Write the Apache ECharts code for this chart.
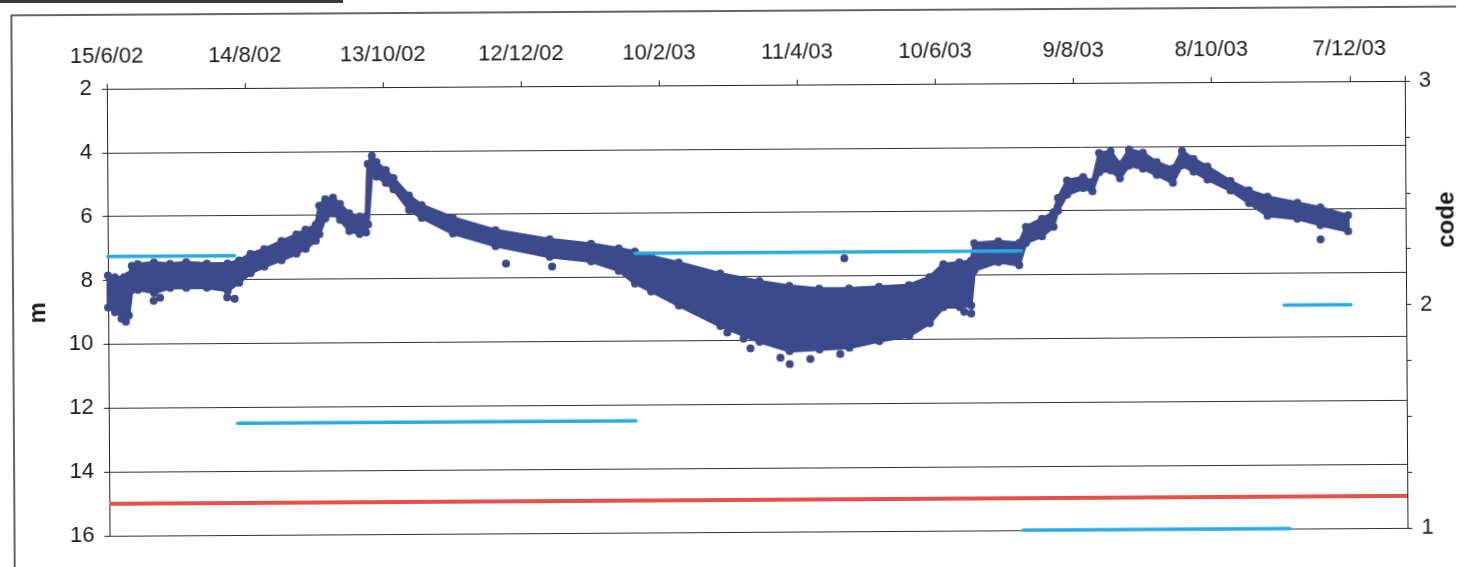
<!DOCTYPE html>
<html>
<head>
<meta charset="utf-8">
<script src="https://cdn.jsdelivr.net/npm/echarts@6/dist/echarts.min.js"></script>
<style>
  html, body { margin: 0; padding: 0; background: #fff; overflow: hidden; }
  #chart { position: absolute; left: 0; top: 0; width: 1458px; height: 567px;
           transform: rotate(-0.35deg); transform-origin: 50% 50%; }
  #bar { position: absolute; left: 0; top: 0; width: 343px; height: 3px; background: #3a3a3a; }
</style>
</head>
<body>
<div id="chart"></div>
<div id="bar"></div>
<script>
// Day numbers count from 15 June 2002 (day 0); ticks every 60 days.
const xTickLabels = ['15/6/02', '14/8/02', '13/10/02', '12/12/02', '10/2/03',
                     '11/4/03', '10/6/03', '9/8/03', '8/10/03', '7/12/03'];

// Logged water depth (m): shallow and deep edge of the reading cloud per day.
const envDays   = [0, 3, 7, 9, 10.4, 13, 20, 27, 34, 43, 52, 57, 62, 68, 75.5, 82, 86, 90.4, 92, 94.6,
                   98, 101, 105, 109.5, 112.3, 113.2, 115, 117, 121, 124.3, 131, 136.5, 150, 168.5, 192, 210, 222, 229, 236, 248,
                   266, 283, 296, 309, 322, 335, 348, 357, 363, 370, 375, 376.5, 387, 396, 399, 406, 411, 413, 417, 424,
                   428, 431, 436, 440, 444, 450, 456, 463, 467, 472, 478, 488, 496, 504, 517, 527, 539];
const envTop    = [7.85, 7.9, 7.9, 7.85, 7.55, 7.5, 7.45, 7.5, 7.45, 7.5, 7.5, 7.4, 7.2, 7.05, 6.8, 6.6, 6.45, 6.3, 5.7, 5.5,
                   5.45, 5.65, 5.95, 6.05, 6.05, 4.4, 4.15, 4.35, 4.6, 4.85, 5.4, 5.7, 6.1, 6.5, 6.8, 6.95, 7.1, 7.2, 7.35, 7.55,
                   7.9, 8.15, 8.3, 8.4, 8.4, 8.35, 8.3, 8.05, 7.65, 7.6, 7.55, 7.0, 6.95, 7.0, 6.5, 6.25, 6.05, 5.6, 5.05, 4.95,
                   5.1, 4.2, 4.15, 4.55, 4.1, 4.2, 4.5, 4.7, 4.15, 4.4, 4.65, 5.1, 5.4, 5.6, 5.8, 5.95, 6.2];
const envBottom = [8.85, 9.0, 9.15, 9.1, 8.3, 8.3, 8.4, 8.25, 8.25, 8.25, 8.35, 8.1, 7.8, 7.6, 7.4, 7.2, 7.05, 6.8, 6.6, 6.1,
                   5.95, 6.15, 6.5, 6.6, 6.55, 6.3, 4.65, 4.8, 5.0, 5.2, 5.85, 6.1, 6.6, 7.0, 7.35, 7.5, 7.8, 8.2, 8.45, 8.9,
                   9.55, 10.05, 10.35, 10.3, 10.25, 10.05, 9.9, 9.5, 9.0, 9.0, 8.95, 7.85, 7.6, 7.7, 7.0, 6.8, 6.5, 6.0, 5.5, 5.3,
                   5.4, 4.8, 4.75, 5.0, 4.6, 4.7, 4.9, 5.15, 4.6, 4.8, 5.05, 5.4, 5.8, 6.2, 6.3, 6.5, 6.7];

// Isolated readings lying outside the main cloud.
const strayDays  = [5.8, 7.7, 19.8, 22.6, 51.8, 55, 173, 193, 269, 276, 279, 292, 296, 305, 318, 320, 372, 375, 527];
const strayDepth = [9.2, 9.3, 8.65, 8.55, 8.55, 8.6, 7.55, 7.65, 9.75, 9.95, 10.25, 10.55, 10.75, 10.6, 10.45, 7.45, 9.15, 9.2, 6.95];

// Code periods plotted on the right-hand axis.
const codeStart = [0, 56, 229, 397, 511];
const codeEnd   = [55, 229, 397, 513, 540];
const codeValue = [2.25, 1.5, 2.25, 1, 2];

// Reference depth (m) drawn across the whole period.
const refLevel = 15;

const X_MIN = 0, X_MAX = 564;
const DOT = '#3c4a8c';
const CODE = '#2aaae2';
const REF = '#e8504a';
const FONT = "'Liberation Sans', Arial, sans-serif";
const INK = '#1a1a1a';

const chart = echarts.init(document.getElementById('chart'), null, { renderer: 'canvas' });

const edgePoints = envDays.map((d, i) => [d, envTop[i]])
  .concat(envDays.map((d, i) => [d, envBottom[i]]));

chart.setOption({
  animation: false,
  backgroundColor: '#fff',
  grid: { left: 108, right: 52, top: 85, bottom: 35 },
  graphic: [
    { type: 'rect', silent: true, z: -1,
      shape: { x: 13, y: 11, width: 1500, height: 557 },
      style: { fill: 'none', stroke: '#333', lineWidth: 1.5 } },
    { type: 'text', silent: true, x: 1447, y: 224, rotation: Math.PI / 2,
      style: { text: 'code', font: "bold 24px " + FONT, fill: INK, align: 'center', verticalAlign: 'middle' } }
  ],
  xAxis: {
    type: 'value', position: 'top', min: X_MIN, max: X_MAX, interval: 60,
    axisLine: { show: true, lineStyle: { color: '#222', width: 1 } },
    axisTick: { show: true, inside: false, length: 5, lineStyle: { color: '#222' } },
    splitLine: { show: false },
    axisLabel: {
      margin: 21, color: INK, fontFamily: FONT, fontSize: 22,
      formatter: v => { const k = Math.round(v / 60); return (Math.abs(v - k * 60) < 1e-6 && xTickLabels[k]) ? xTickLabels[k] : ''; }
    }
  },
  yAxis: [
    {
      type: 'value', inverse: true, min: 2, max: 16, interval: 2, position: 'left',
      name: 'm', nameLocation: 'middle', nameGap: 58, nameRotate: 90,
      nameTextStyle: { fontFamily: FONT, fontSize: 24, fontWeight: 'bold', color: INK },
      axisLine: { show: true, lineStyle: { color: '#222', width: 1 } },
      axisTick: { show: true, inside: false, length: 5, lineStyle: { color: '#222' } },
      splitLine: { show: true, lineStyle: { color: '#333', width: 1 } },
      axisLabel: { margin: 15, color: INK, fontFamily: FONT, fontSize: 22 }
    },
    {
      type: 'value', min: 1, max: 3, interval: 0.25, position: 'right',
      axisLine: { show: true, lineStyle: { color: '#222', width: 1 } },
      axisTick: { show: true, inside: false, length: 5, lineStyle: { color: '#222' } },
      splitLine: { show: false },
      axisLabel: {
        margin: 14, color: INK, fontFamily: FONT, fontSize: 22,
        formatter: v => (Math.abs(v - Math.round(v)) < 1e-6 ? String(Math.round(v)) : '')
      }
    }
  ],
  series: [
    {
      // filled body of the reading cloud
      type: 'custom', xAxisIndex: 0, yAxisIndex: 0, silent: true, z: 2,
      data: [[envDays[0], envTop[0]]],
      renderItem: (params, api) => {
        const pts = [];
        for (let i = 0; i < envDays.length; i++) pts.push(api.coord([envDays[i], envTop[i]]));
        for (let i = envDays.length - 1; i >= 0; i--) pts.push(api.coord([envDays[i], envBottom[i]]));
        return { type: 'polygon', shape: { points: pts }, style: { fill: DOT, stroke: DOT, lineWidth: 3, lineJoin: 'round' } };
      }
    },
    {
      type: 'scatter', xAxisIndex: 0, yAxisIndex: 0, silent: true, z: 3,
      symbol: 'circle', symbolSize: 8, itemStyle: { color: DOT, opacity: 1 },
      data: edgePoints
    },
    {
      type: 'scatter', xAxisIndex: 0, yAxisIndex: 0, silent: true, z: 3,
      symbol: 'circle', symbolSize: 8, itemStyle: { color: DOT, opacity: 1 },
      data: strayDays.map((d, i) => [d, strayDepth[i]])
    },
    {
      type: 'line', xAxisIndex: 0, yAxisIndex: 0, silent: true, z: 4,
      symbol: 'none', lineStyle: { color: REF, width: 4 },
      data: [[X_MIN, refLevel], [X_MAX, refLevel]]
    },
    {
      type: 'custom', xAxisIndex: 0, yAxisIndex: 1, silent: true, z: 5,
      data: codeStart.map((s, i) => [s, codeEnd[i], codeValue[i]]),
      encode: { x: [0, 1], y: 2 },
      renderItem: (params, api) => {
        const a = api.coord([api.value(0), api.value(2)]);
        const b = api.coord([api.value(1), api.value(2)]);
        return { type: 'line', shape: { x1: a[0], y1: a[1], x2: b[0], y2: b[1] },
                 style: { stroke: CODE, lineWidth: 3.5, lineCap: 'round' } };
      }
    }
  ]
});
</script>
</body>
</html>
